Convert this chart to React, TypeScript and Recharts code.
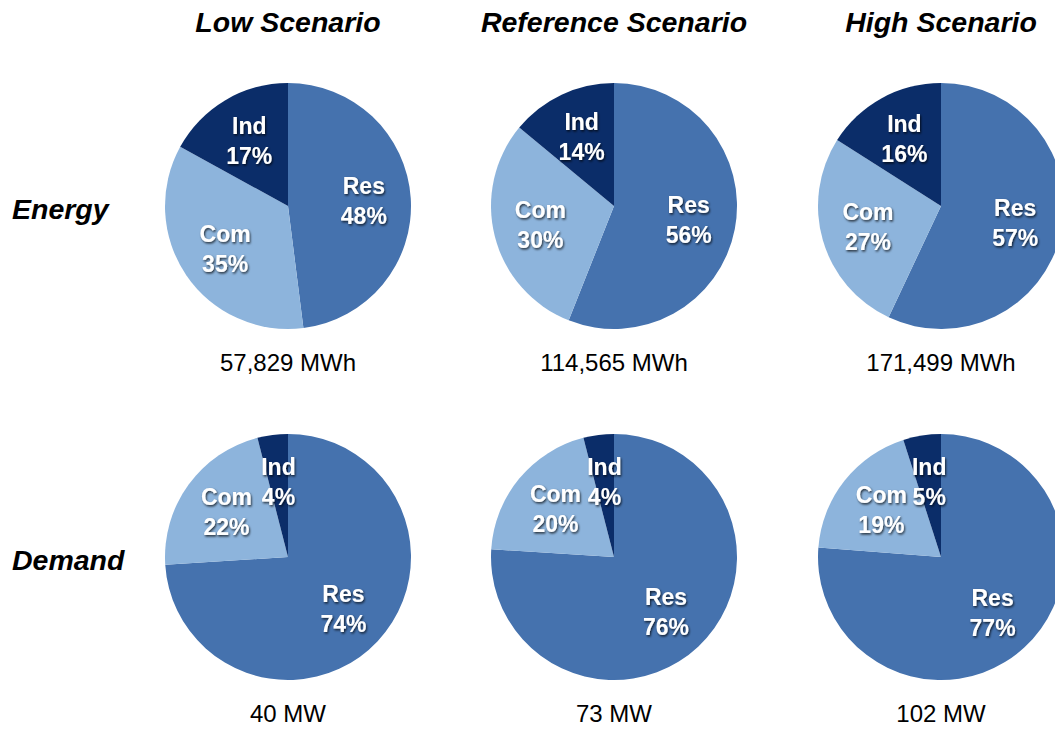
import React from 'react';
import { PieChart, Pie, Cell } from 'recharts';

const segments = ['Res', 'Com', 'Ind'];
const segmentColors = ['#4572ae', '#8db4dc', '#0b2d69'];
const scenarios = ['Low Scenario', 'Reference Scenario', 'High Scenario'];
const rowLabels = ['Energy', 'Demand'];

const lowEnergy = [48, 35, 17];
const referenceEnergy = [56, 30, 14];
const highEnergy = [57, 27, 16];
const lowDemand = [74, 22, 4];
const referenceDemand = [76, 20, 4];
const highDemand = [77, 19, 5];

const energyTotals = ['57,829 MWh', '114,565 MWh', '171,499 MWh'];
const demandTotals = ['40 MW', '73 MW', '102 MW'];

const W = 1055;
const H = 730;
const colX = [288, 614, 941];
const rowY = [206, 557];
const R = 123;
const FONT = '"Liberation Sans", Arial, Helvetica, sans-serif';

const toData = (vals: number[]) => vals.map((v, i) => ({ name: segments[i], value: v }));

const rows = [
  [lowEnergy, referenceEnergy, highEnergy],
  [lowDemand, referenceDemand, highDemand],
];
const totals = [energyTotals, demandTotals];

const RAD = Math.PI / 180;

const renderLabel = (props: any) => {
  const { cx, cy, midAngle, name, value } = props;
  const r = 76;
  const x = cx + r * Math.cos(-midAngle * RAD);
  const y = cy + r * Math.sin(-midAngle * RAD);
  return (
    <text
      x={x}
      y={y}
      textAnchor="middle"
      fill="#ffffff"
      fontFamily={FONT}
      fontWeight="bold"
      fontSize={23}
      filter="url(#lblShadow)"
    >
      <tspan x={x} dy={-7}>{name}</tspan>
      <tspan x={x} dy={30}>{`${value}%`}</tspan>
    </text>
  );
};

export default function App() {
  return (
    <div style={{ position: 'absolute', left: 0, top: 0, width: W, height: H, background: '#fff', overflow: 'hidden' }}>
      <svg width={0} height={0} style={{ position: 'absolute' }}>
        <defs>
          <filter id="lblShadow" x="-30%" y="-30%" width="160%" height="160%">
            <feDropShadow dx="1" dy="1.5" stdDeviation="1.2" floodColor="#000" floodOpacity="0.75" />
          </filter>
        </defs>
      </svg>
      <PieChart width={W} height={H} margin={{ top: 0, right: 0, bottom: 0, left: 0 }}>
        {rows.map((row, ri) =>
          row.map((vals, ci) => (
            <Pie
              key={`p-${ri}-${ci}`}
              data={toData(vals)}
              dataKey="value"
              nameKey="name"
              cx={colX[ci]}
              cy={rowY[ri]}
              outerRadius={R}
              innerRadius={0}
              startAngle={90}
              endAngle={-270}
              stroke="none"
              labelLine={false}
              label={renderLabel}
              isAnimationActive={false}
            >
              {vals.map((_, i) => (
                <Cell key={i} fill={segmentColors[i]} />
              ))}
            </Pie>
          ))
        )}
      </PieChart>
      <svg width={W} height={H} style={{ position: 'absolute', left: 0, top: 0, pointerEvents: 'none' }}>
        {scenarios.map((s, i) => (
          <text key={s} x={colX[i]} y={32} textAnchor="middle" fontFamily={FONT} fontWeight="bold" fontStyle="italic" fontSize={28.5} fill="#000">
            {s}
          </text>
        ))}
        {rowLabels.map((s, i) => (
          <text key={s} x={12} y={rowY[i] + 13} textAnchor="start" fontFamily={FONT} fontWeight="bold" fontStyle="italic" fontSize={28.5} fill="#000">
            {s}
          </text>
        ))}
        {totals.map((t, ri) =>
          t.map((s, ci) => (
            <text key={`${ri}-${ci}`} x={colX[ci]} y={rowY[ri] + 165} textAnchor="middle" fontFamily={FONT} fontSize={24} fill="#000">
              {s}
            </text>
          ))
        )}
      </svg>
    </div>
  );
}
